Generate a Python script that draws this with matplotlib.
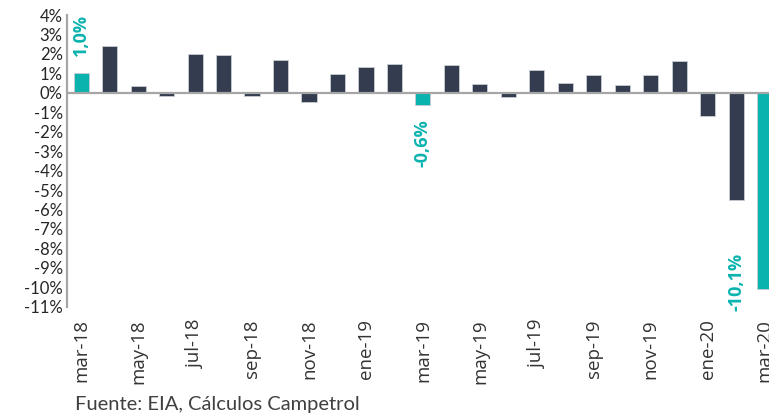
import numpy as np
import matplotlib
matplotlib.use("Agg")
import matplotlib.pyplot as plt

# Monthly variation (%), mar-18 .. mar-20
months = ["mar-18", "abr-18", "may-18", "jun-18", "jul-18", "ago-18", "sep-18",
          "oct-18", "nov-18", "dic-18", "ene-19", "feb-19", "mar-19", "abr-19",
          "may-19", "jun-19", "jul-19", "ago-19", "sep-19", "oct-19", "nov-19",
          "dic-19", "ene-20", "feb-20", "mar-20"]
values = [1.0, 2.42, 0.33, -0.14, 1.99, 1.94, -0.17, 1.68, -0.46, 0.96, 1.31,
          1.48, -0.6, 1.44, 0.45, -0.2, 1.17, 0.5, 0.94, 0.38, 0.94, 1.65,
          -1.19, -5.49, -10.1]
highlight = ["mar-18", "mar-19", "mar-20"]
labels = {"mar-18": "1,0%", "mar-19": "-0,6%", "mar-20": "-10,1%"}
yticks = list(range(4, -12, -1))

teal = "#0BB3AF"
navy = "#333D4F"
gray = "#A6A6A6"

fig = plt.figure(figsize=(7.69, 4.20), dpi=100)
ax = fig.add_axes([0.087, 0.270, 0.926, 0.694])

x = np.arange(len(months))
colors = [teal if m in highlight else navy for m in months]
ax.bar(x, values, width=0.53, color=colors, edgecolor="#c9cdd3", linewidth=0.6, zorder=2)

ax.set_xlim(-0.5, len(months) - 0.5)
ax.set_ylim(-11, 4)
ax.axhline(0, color=gray, linewidth=1.6, zorder=3)

for s in ["top", "right", "bottom"]:
    ax.spines[s].set_visible(False)
ax.spines["left"].set_color(gray)
ax.spines["left"].set_linewidth(1.6)

ax.set_yticks(yticks)
ax.set_yticklabels([f"{t}%" for t in yticks], fontfamily="Lato", fontsize=12, color="#262626")
ax.set_xticks(x[::2])
ax.set_xticklabels(months[::2], rotation=90, fontfamily="Open Sans", fontsize=13.5, color="#333333")
ax.tick_params(axis="both", length=0, pad=3)
ax.tick_params(axis="x", pad=9)

# data labels for the highlighted bars
lab_font = dict(rotation=90, ha="center", va="center", color=teal,
                fontweight="bold", fontfamily="Open Sans", fontsize=13)
i0 = months.index("mar-18")
ax.text(i0, 3.0, labels["mar-18"], **lab_font)
i1 = months.index("mar-19")
ax.text(i1, -2.6, labels["mar-19"], **lab_font)
i2 = months.index("mar-20")
ax.text(i2 - 1, -9.75, labels["mar-20"], **lab_font)

fig.text(0.097, 0.024, "Fuente: EIA, Cálculos Campetrol", fontfamily="Lato",
         fontsize=14.5, color="#404040")

fig.savefig("out.png", dpi=100)
